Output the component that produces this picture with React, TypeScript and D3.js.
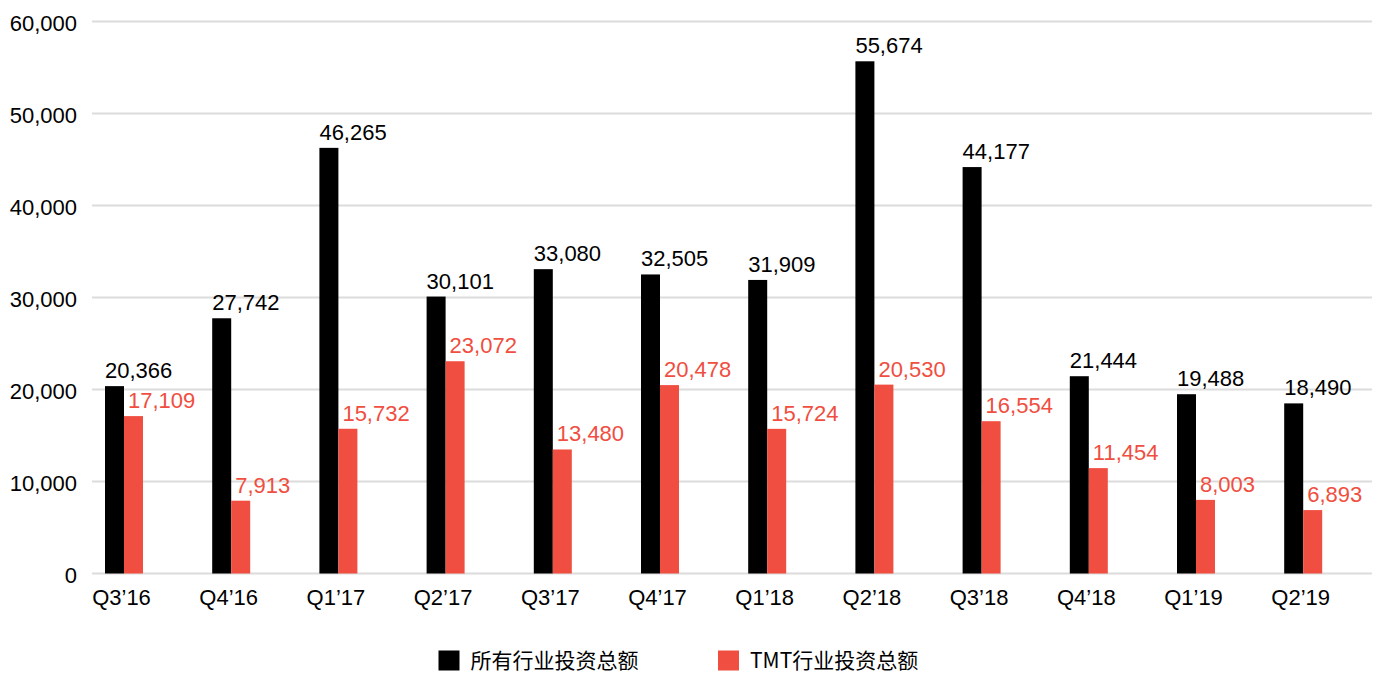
import React from "react";
import * as d3 from "d3";

const categories = ["Q3’16", "Q4’16", "Q1’17", "Q2’17", "Q3’17", "Q4’17", "Q1’18", "Q2’18", "Q3’18", "Q4’18", "Q1’19", "Q2’19"];
const allIndustry = [20366, 27742, 46265, 30101, 33080, 32505, 31909, 55674, 44177, 21444, 19488, 18490];
const tmtIndustry = [17109, 7913, 15732, 23072, 13480, 20478, 15724, 20530, 16554, 11454, 8003, 6893];
const yTicks = [0, 10000, 20000, 30000, 40000, 50000, 60000];
const seriesNames = ["所有行业投资总额", "TMT行业投资总额"];

const W = 1378;
const H = 673;
const BLACK = "#000000";
const RED = "#F04E40";
const FONT = "'Liberation Sans', Helvetica, Arial, sans-serif";
const CJK = "'Noto Sans CJK SC', 'Liberation Sans', sans-serif";

export default function App() {
  const y = d3.scaleLinear().domain([0, 60000]).range([573.5, 21.5]);
  const x = d3.scalePoint<string>().domain(categories).range([124, 124 + 11 * 107.2]);
  const bw = 19;
  const fmt = d3.format(",");

  return (
    <svg width={W} height={H} style={{ position: "absolute", left: 0, top: 0, background: "#fff" }}>
      {yTicks.map((t) => (
        <g key={t}>
          <line x1={92} x2={1372} y1={y(t)} y2={y(t)} stroke="#dcdcdc" strokeWidth={2} />
          <text x={77} y={y(t) + 9.5} textAnchor="end" fontFamily={FONT} fontSize={22} fill="#000">
            {fmt(t)}
          </text>
        </g>
      ))}
      {categories.map((c, i) => {
        const cx = x(c) as number;
        const bLeft = cx - bw;
        const rLeft = cx;
        const yb = y(allIndustry[i]);
        const yr = y(tmtIndustry[i]);
        return (
          <g key={c}>
            <rect x={bLeft} y={yb} width={bw} height={y(0) - yb} fill={BLACK} />
            <rect x={rLeft} y={yr} width={bw} height={y(0) - yr} fill={RED} />
            <text x={bLeft} y={yb - 8} fontFamily={FONT} fontSize={22} fill="#000">
              {fmt(allIndustry[i])}
            </text>
            <text x={rLeft + 4} y={yr - 8} fontFamily={FONT} fontSize={22} fill={RED}>
              {fmt(tmtIndustry[i])}
            </text>
            <text x={cx - 2.5} y={605} textAnchor="middle" fontFamily={FONT} fontSize={22} fill="#000">
              {c}
            </text>
          </g>
        );
      })}
      {seriesNames.map((s, i) => {
        const lx = i === 0 ? 438.5 : 718;
        return (
          <g key={s}>
            <rect x={lx} y={650.5} width={21} height={20} fill={i === 0 ? BLACK : RED} />
            <text x={lx + 32} y={668} fontFamily={CJK} fontSize={21} fill="#000">
              {s}
            </text>
          </g>
        );
      })}
    </svg>
  );
}
